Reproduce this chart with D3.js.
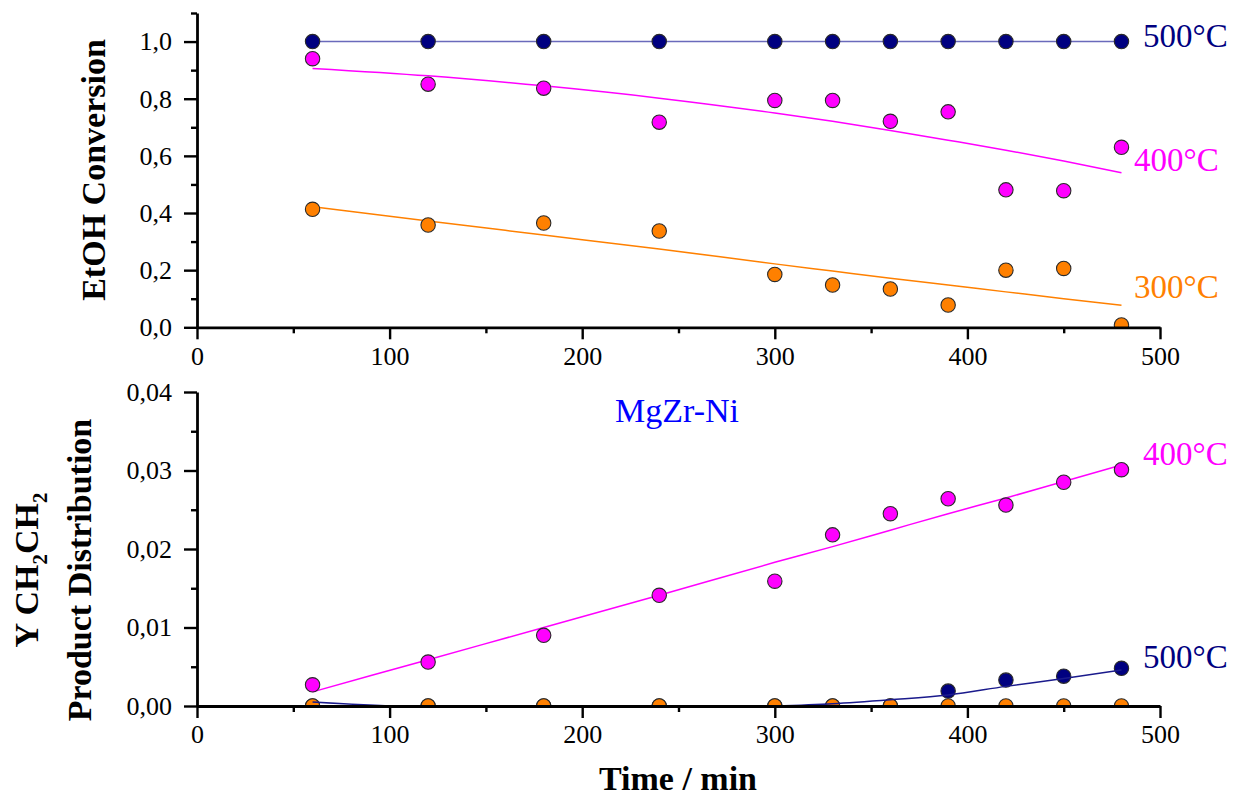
<!DOCTYPE html>
<html>
<head>
<meta charset="utf-8">
<script src="https://cdn.jsdelivr.net/npm/d3@7"></script>
<style>
  html, body { margin: 0; padding: 0; background: #ffffff; }
  svg { display: block; }
  text { font-family: "Liberation Serif", "Times New Roman", serif; }
</style>
</head>
<body>
<svg id="chart" width="1234" height="796"></svg>
<script>
// ---- Data ----
const times = [60, 120, 180, 240, 300, 330, 360, 390, 420, 450, 480];

// Top panel: EtOH conversion
const conv500 = [1.0, 1.0, 1.0, 1.0, 1.0, 1.0, 1.0, 1.0, 1.0, 1.0, 1.0];
const conv400 = [0.940, 0.851, 0.837, 0.718, 0.794, 0.794, 0.721, 0.754, 0.481, 0.478, 0.630];
const conv300 = [0.413, 0.358, 0.365, 0.337, 0.185, 0.148, 0.134, 0.078, 0.200, 0.206, 0.008];
const fitConv500 = [1.0, 1.0, 1.0, 1.0, 1.0, 1.0, 1.0, 1.0, 1.0, 1.0, 1.0];
const fitConv400 = [0.906, 0.880, 0.845, 0.802, 0.750, 0.721, 0.689, 0.655, 0.620, 0.582, 0.541];
const fitConv300 = [0.422, 0.372, 0.323, 0.274, 0.222, 0.197, 0.172, 0.148, 0.124, 0.100, 0.077];

// Bottom panel: Y CH2CH2 product distribution
const eth500 = [0, 0, 0, 0, 0, 0, 0, 0.0019, 0.0033, 0.0038, 0.0048];
const eth400 = [0.0027, 0.0056, 0.0090, 0.0141, 0.0159, 0.0218, 0.0245, 0.0264, 0.0256, 0.0285, 0.0301];
const eth300 = [0, 0, 0, 0, 0, 0, 0, 0, 0, 0, 0];
const fitEth500 = [0.0005, -0.0002, -0.0004, -0.0003, 0.0000, 0.0003, 0.0008, 0.0014, 0.0025, 0.0035, 0.0046];
const fitEth400 = [0.0018, 0.0059, 0.0100, 0.0141, 0.0183, 0.0203, 0.0224, 0.0245, 0.0265, 0.0286, 0.0307];

// Tick values
const xTicks = [0, 100, 200, 300, 400, 500];
const xMinorTicks = [50, 150, 250, 350, 450];
const yTopTicks = [0, 0.2, 0.4, 0.6, 0.8, 1.0];
const yTopMinor = [0.1, 0.3, 0.5, 0.7, 0.9, 1.1];
const yBotTicks = [0, 0.01, 0.02, 0.03, 0.04];
const yBotMinor = [0.005, 0.015, 0.025, 0.035];

const seriesLabels = ["500°C", "400°C", "300°C"];
const colors = { c500: "#000080", c400: "#ff00ff", c300: "#ff8000" };

// ---- Layout ----
const svg = d3.select("#chart");
const X0 = 197, X1 = 1160;
const topP = { y0: 13, y1: 327.3 };
const botP = { y0: 392, y1: 706 };

const x = d3.scaleLinear().domain([0, 500]).range([X0, X1]);
const yTop = d3.scaleLinear().domain([0, 1.1]).range([topP.y1, topP.y0]);
const yBot = d3.scaleLinear().domain([0, 0.04]).range([botP.y1, botP.y0]);

const defs = svg.append("defs");
defs.append("clipPath").attr("id", "clipTop").append("rect")
  .attr("x", X0).attr("y", topP.y0 - 10).attr("width", X1 - X0).attr("height", topP.y1 - topP.y0 + 10);
defs.append("clipPath").attr("id", "clipBot").append("rect")
  .attr("x", X0).attr("y", botP.y0 - 10).attr("width", X1 - X0).attr("height", botP.y1 - botP.y0 + 10);

function drawPanel(yScale, clipId, lines, markers) {
  const g = svg.append("g").attr("clip-path", `url(#${clipId})`);
  lines.forEach(l => {
    const gen = d3.line().x((d, i) => x(times[i])).y(d => yScale(d)).curve(d3.curveMonotoneX);
    g.append("path").datum(l.values)
      .attr("d", gen).attr("fill", "none")
      .attr("stroke", l.color).attr("stroke-width", l.width).attr("stroke-opacity", l.opacity || 1);
  });
  markers.forEach(m => {
    g.selectAll(null).data(m.values).enter().append("circle")
      .attr("cx", (d, i) => x(times[i])).attr("cy", d => yScale(d))
      .attr("r", 7.2).attr("fill", m.color).attr("stroke", "#2a2a2a").attr("stroke-width", 1.1);
  });
}

drawPanel(yTop, "clipTop",
  [
    { values: fitConv500, color: "#5a5ab4", width: 1.6, opacity: 0.9 },
    { values: fitConv400, color: colors.c400, width: 1.5 },
    { values: fitConv300, color: colors.c300, width: 1.5 }
  ],
  [
    { values: conv500, color: colors.c500 },
    { values: conv400, color: colors.c400 },
    { values: conv300, color: colors.c300 }
  ]);

drawPanel(yBot, "clipBot",
  [
    { values: fitEth400, color: colors.c400, width: 1.5 }
  ],
  [
    { values: eth500, color: colors.c500 },
    { values: eth400, color: colors.c400 },
    { values: eth300, color: colors.c300 }
  ]);
// navy fit line in lower panel drawn over the markers
(function () {
  const g = svg.append("g").attr("clip-path", "url(#clipBot)");
  const gen = d3.line().x((d, i) => x(times[i])).y(d => yBot(d)).curve(d3.curveMonotoneX);
  g.append("path").datum(fitEth500).attr("d", gen).attr("fill", "none")
    .attr("stroke", "#1a1a8c").attr("stroke-width", 1.5);
})();

// ---- Axes ----
const fmt1 = v => d3.format(".1f")(v).replace(".", ",");
const fmt2 = v => d3.format(".2f")(v).replace(".", ",");

function styleAxis(g) {
  g.select(".domain").attr("stroke", "#000").attr("stroke-width", 2.8);
  g.selectAll(".tick line").attr("stroke", "#000").attr("stroke-width", 2.4);
  g.selectAll(".tick text").attr("fill", "#000").attr("font-size", 26)
    .attr("font-family", "Liberation Serif, Times New Roman, serif");
}

function xAxes(yPos) {
  const gMinor = svg.append("g").attr("transform", `translate(0,${yPos})`)
    .call(d3.axisBottom(x).tickValues(xMinorTicks).tickSize(6).tickFormat(""));
  gMinor.select(".domain").remove();
  gMinor.selectAll(".tick line").attr("stroke", "#000").attr("stroke-width", 2.4);
  const g = svg.append("g").attr("transform", `translate(0,${yPos})`)
    .call(d3.axisBottom(x).tickValues(xTicks).tickSize(12).tickSizeOuter(0).tickPadding(10).tickFormat(d3.format("d")));
  styleAxis(g);
  g.selectAll(".tick text").attr("dy", "0.71em").attr("y", 19);
}

function yAxis(scale, ticks, minor, fmt) {
  const gMinor = svg.append("g").attr("transform", `translate(${X0},0)`)
    .call(d3.axisLeft(scale).tickValues(minor).tickSize(6).tickFormat(""));
  gMinor.select(".domain").remove();
  gMinor.selectAll(".tick line").attr("stroke", "#000").attr("stroke-width", 2.4);
  const g = svg.append("g").attr("transform", `translate(${X0},0)`)
    .call(d3.axisLeft(scale).tickValues(ticks).tickSize(13).tickSizeOuter(0).tickPadding(12).tickFormat(fmt));
  styleAxis(g);
}

yAxis(yTop, yTopTicks, yTopMinor, fmt1);
yAxis(yBot, yBotTicks, yBotMinor, fmt2);
xAxes(topP.y1);
xAxes(botP.y1);

// ---- Labels ----
const serif = "Liberation Serif, Times New Roman, serif";
// Series labels, top panel
svg.append("text").attr("x", 1143).attr("y", 47).attr("font-size", 33).attr("font-family", serif)
  .attr("fill", colors.c500).text(seriesLabels[0]);
svg.append("text").attr("x", 1134).attr("y", 171).attr("font-size", 33).attr("font-family", serif)
  .attr("fill", colors.c400).text(seriesLabels[1]);
svg.append("text").attr("x", 1134).attr("y", 298).attr("font-size", 33).attr("font-family", serif)
  .attr("fill", colors.c300).text(seriesLabels[2]);
// Series labels, bottom panel
svg.append("text").attr("x", 1143).attr("y", 465).attr("font-size", 33).attr("font-family", serif)
  .attr("fill", colors.c400).text(seriesLabels[1]);
svg.append("text").attr("x", 1143).attr("y", 668).attr("font-size", 33).attr("font-family", serif)
  .attr("fill", colors.c500).text(seriesLabels[0]);

// Catalyst label
svg.append("text").attr("x", 677).attr("y", 422).attr("text-anchor", "middle")
  .attr("font-size", 34).attr("font-family", serif).attr("fill", "#0000ff").text("MgZr-Ni");

// Axis titles
svg.append("text").attr("transform", "translate(105,170) rotate(-90)").attr("text-anchor", "middle")
  .attr("font-size", 34).attr("font-weight", "bold").attr("font-family", serif).attr("fill", "#000")
  .text("EtOH Conversion");

const t1 = svg.append("text").attr("transform", "translate(38,570) rotate(-90)").attr("text-anchor", "middle")
  .attr("font-size", 34).attr("font-weight", "bold").attr("font-family", serif).attr("fill", "#000");
t1.append("tspan").text("Y CH");
t1.append("tspan").attr("font-size", 21).attr("dy", 9).text("2");
t1.append("tspan").attr("dy", -9).text("CH");
t1.append("tspan").attr("font-size", 21).attr("dy", 9).text("2");

svg.append("text").attr("transform", "translate(91,570) rotate(-90)").attr("text-anchor", "middle")
  .attr("font-size", 34).attr("font-weight", "bold").attr("font-family", serif).attr("fill", "#000")
  .text("Product Distribution");

svg.append("text").attr("x", 678).attr("y", 790).attr("text-anchor", "middle")
  .attr("font-size", 34).attr("font-weight", "bold").attr("font-family", serif).attr("fill", "#000")
  .text("Time / min");
</script>
</body>
</html>
